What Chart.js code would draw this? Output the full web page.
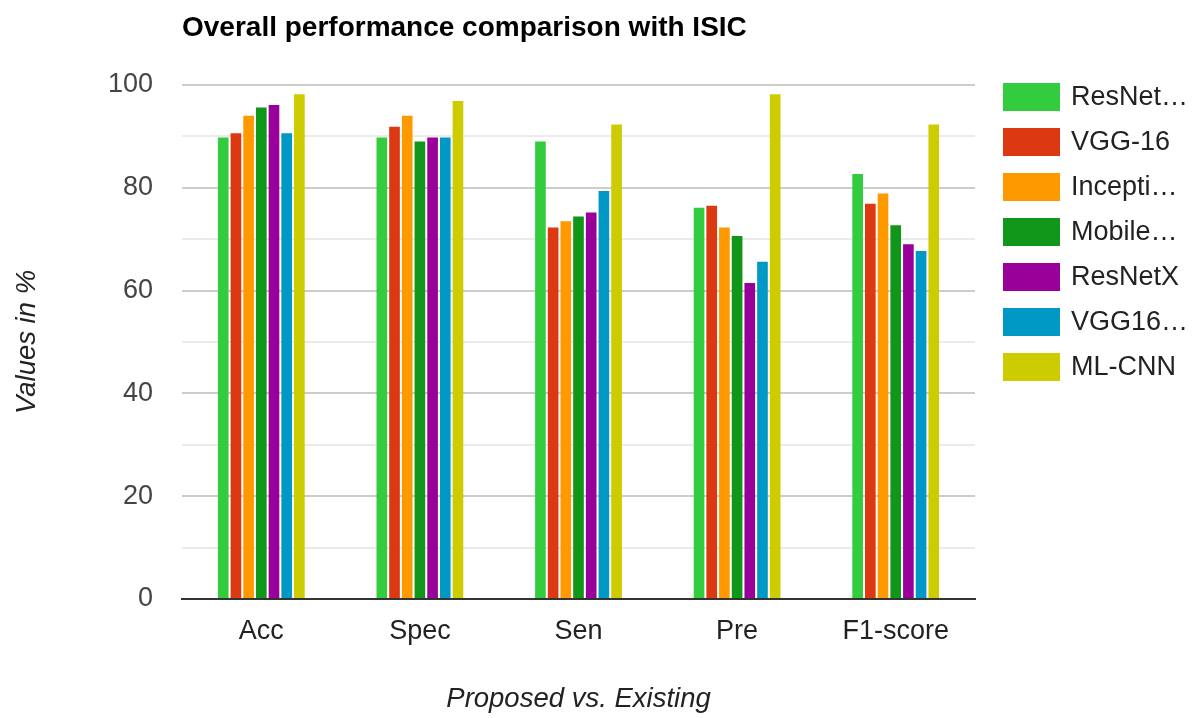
<!DOCTYPE html>
<html>
<head>
<meta charset="utf-8">
<script src="https://cdn.jsdelivr.net/npm/chart.js@4.4.1/dist/chart.umd.min.js"></script>
<style>
  body { margin: 0; background: #fff; }
  #wrap { width: 1201px; height: 718px; }
</style>
</head>
<body>
<div id="wrap"><canvas id="bar-chart"></canvas></div>
<script>
const chartTitle = "Overall performance comparison with ISIC";
const categories = ["Acc", "Spec", "Sen", "Pre", "F1-score"];
const seriesNames = ["ResNet…", "VGG-16", "Incepti…", "Mobile…", "ResNetX", "VGG16…", "ML-CNN"];
const seriesColors = ["#33cc3f", "#dc3912", "#ff9900", "#109618", "#990099", "#0099c6", "#cccc00"];

const resnet = [89.8, 89.8, 89.0, 76.1, 82.7];
const vgg16 = [90.6, 91.9, 72.3, 76.5, 76.9];
const inception = [94.0, 94.0, 73.5, 72.3, 78.9];
const mobilenet = [95.6, 89.0, 74.4, 70.6, 72.7];
const resnetx = [96.1, 89.8, 75.2, 61.5, 69.0];
const vgg16b = [90.6, 89.8, 79.4, 65.6, 67.7];
const mlcnn = [98.2, 96.9, 92.3, 98.2, 92.3];

const yTicks = [0, 20, 40, 60, 80, 100];

const fontFamily = "'Liberation Sans', Arial, sans-serif";
let ctx = document.getElementById("bar-chart").getContext("2d");

let allSeries = [resnet, vgg16, inception, mobilenet, resnetx, vgg16b, mlcnn];

let datapoints = {
  labels: categories,
  datasets: allSeries.map((values, i) => ({
    label: seriesNames[i],
    data: values,
    backgroundColor: seriesColors[i],
    categoryPercentage: 0.56,
    barPercentage: 0.84,
  })),
};

// title + legend drawn by hand, google-charts style
const headerAndLegend = {
  id: "headerAndLegend",
  afterDraw(chart) {
    const c = chart.ctx;
    const area = chart.chartArea;
    c.save();
    c.textBaseline = "middle";
    c.textAlign = "left";
    c.fillStyle = "#000";
    c.font = "bold 28px " + fontFamily;
    c.fillText(chartTitle, area.left, 28);
    c.font = "27px " + fontFamily;
    chart.data.datasets.forEach((ds, i) => {
      const y = 83 + i * 45;
      c.fillStyle = ds.backgroundColor;
      c.fillRect(area.right + 28, y, 57, 28);
      c.fillStyle = "#222";
      c.fillText(ds.label, area.right + 96, y + 15);
    });
    c.restore();
  },
};

let config = {
  responsive: true,
  maintainAspectRatio: false,
  animation: false,
  layout: {
    padding: { left: 0, right: 226, top: 85, bottom: 0 },
  },
  plugins: {
    legend: { display: false },
    title: { display: false },
    tooltip: { enabled: false },
  },
  scales: {
    x: {
      afterFit: (s) => { s.height = 119; },
      grid: { display: false, drawTicks: false },
      border: { display: true, color: "#333", width: 2 },
      ticks: {
        color: "#222",
        padding: 16,
        font: { family: fontFamily, size: 27 },
      },
      title: {
        display: true,
        text: "Proposed vs. Existing",
        color: "#222",
        padding: { top: 0, bottom: 2 },
        font: { family: fontFamily, size: 27.5, style: "italic" },
      },
    },
    y: {
      min: 0,
      max: 100,
      afterFit: (s) => { s.width = 182; },
      border: { display: false },
      grid: {
        drawTicks: false,
        lineWidth: 2,
        color: (c) => {
          if (!c.tick || c.tick.value === 0) return "rgba(0,0,0,0)";
          return yTicks.includes(c.tick.value) ? "#cccccc" : "#ebebeb";
        },
      },
      ticks: {
        stepSize: 10,
        padding: 29,
        color: "#444",
        font: { family: fontFamily, size: 27 },
        callback: (v) => (yTicks.includes(v) ? v : ""),
      },
      title: {
        display: true,
        text: "Values in %",
        color: "#222",
        padding: { top: 11, bottom: 0 },
        font: { family: fontFamily, size: 27.5, style: "italic" },
      },
    },
  },
};

let barChart = new Chart(ctx, {
  type: "bar",
  data: datapoints,
  options: config,
  plugins: [headerAndLegend],
});
</script>
</body>
</html>
